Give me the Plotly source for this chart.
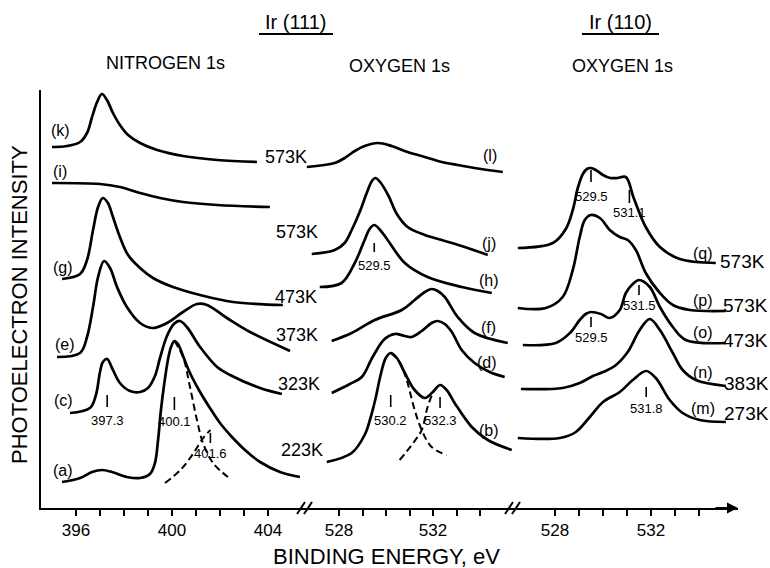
import plotly.graph_objects as go

# ---------------- Ir(111), nitrogen 1s (binding energy in eV, offset intensity) ----------------
k_be = [395.0, 395.62, 396.17, 396.46, 396.67, 396.88, 397.08, 397.29, 397.54, 397.83, 398.17, 398.67, 399.38, 400.46, 401.88, 403.54]
k_int = [36.1, 36.2, 36.6, 37.5, 39.1, 40.6, 41.4, 40.8, 39.5, 38.3, 37.3, 36.5, 35.8, 35.2, 34.8, 34.6]

i_be = [395.0, 397.0, 397.83, 398.67, 399.5, 400.46, 401.88, 404.08]
i_int = [32.5, 32.4, 32.1, 31.5, 31.0, 30.6, 30.3, 30.1]

g_be = [395.42, 396.17, 396.46, 396.71, 396.92, 397.12, 397.33, 397.54, 397.83, 398.17, 398.67, 399.21, 400.04, 401.17, 402.54, 404.62]
g_int = [22.9, 23.4, 24.8, 27.8, 30.1, 31.0, 30.5, 29.1, 27.1, 25.3, 24.0, 23.0, 22.1, 21.3, 20.6, 20.3]

e_be = [395.21, 396.17, 396.46, 396.71, 396.92, 397.17, 397.42, 397.71, 398.12, 398.67, 399.17, 399.79, 400.46, 401.04, 401.46, 402.29, 403.25, 404.92]
e_int = [15.1, 15.5, 17.1, 20.1, 23.1, 24.7, 24.0, 22.1, 20.1, 18.5, 18.0, 18.5, 19.6, 20.4, 20.3, 19.0, 17.6, 15.7]

c_be = [395.75, 396.58, 396.83, 397.0, 397.12, 397.3, 397.5, 397.83, 398.25, 398.67, 399.0, 399.29, 399.5, 399.79, 400.08, 400.33, 400.62, 401.17, 401.88, 402.42, 403.67, 404.58]
c_int = [9.5, 10.0, 11.3, 13.6, 14.6, 14.9, 14.0, 12.5, 11.7, 11.6, 12.0, 13.2, 15.0, 17.2, 18.4, 18.7, 18.1, 16.1, 14.1, 13.3, 12.0, 11.4]

a_be = [395.42, 396.17, 396.67, 397.08, 397.5, 398.12, 398.67, 399.08, 399.29, 399.42, 399.54, 399.67, 399.83, 399.96, 400.1, 400.25, 400.46, 400.75, 401.17, 401.58, 402.0, 402.5, 403.04, 403.67, 404.5, 405.33]
a_int = [2.6, 3.0, 3.6, 3.8, 3.6, 3.1, 3.0, 3.4, 4.5, 6.8, 9.8, 12.3, 14.8, 16.1, 16.7, 16.4, 15.2, 13.5, 11.6, 10.0, 8.5, 7.1, 5.8, 4.6, 3.6, 3.1]

# fitted components of spectrum (a)
a_fit1_be = [400.1, 400.46, 400.75, 401.04, 401.29, 401.71, 402.33]
a_fit1_int = [16.7, 15.1, 12.1, 8.8, 6.5, 4.5, 3.1]
a_fit2_be = [399.71, 400.35, 400.9, 401.3, 401.6]
a_fit2_int = [2.5, 3.8, 5.5, 7.0, 7.8]

# ---------------- Ir(111), oxygen 1s ----------------
l_be = [526.63, 527.82, 528.24, 528.67, 529.09, 529.65, 530.24, 530.92, 531.65, 532.37, 533.05, 533.77, 534.97]
l_int = [34.1, 34.5, 35.0, 35.7, 36.2, 36.5, 36.2, 35.6, 35.1, 34.6, 34.3, 34.0, 33.6]

j_be = [526.84, 527.82, 528.24, 528.54, 528.88, 529.18, 529.4, 529.55, 529.75, 530.11, 530.46, 530.92, 531.65, 532.37, 533.35, 534.33]
j_int = [25.4, 25.8, 26.5, 27.8, 29.6, 31.5, 32.7, 33.0, 32.6, 31.2, 29.4, 28.1, 27.3, 26.8, 26.1, 25.3]

h_be = [527.18, 528.11, 528.67, 529.09, 529.3, 529.5, 529.75, 530.07, 530.8, 531.77, 533.22, 534.5]
h_int = [22.1, 22.5, 24.5, 26.8, 27.9, 28.3, 27.8, 26.8, 24.5, 23.1, 22.1, 21.5]

f_be = [527.69, 528.54, 529.52, 530.67, 531.22, 531.65, 531.94, 532.2, 532.5, 533.05, 533.77, 535.18]
f_int = [16.7, 17.5, 18.8, 19.8, 20.8, 21.6, 21.9, 21.7, 21.1, 19.1, 17.5, 16.5]

d_be = [527.69, 528.46, 528.97, 529.43, 529.94, 530.37, 530.8, 531.09, 531.52, 531.94, 532.2, 532.5, 532.8, 533.22, 533.77, 534.41, 535.05]
d_int = [11.5, 12.4, 13.1, 15.1, 16.9, 17.4, 17.2, 17.1, 17.7, 18.5, 18.7, 18.4, 17.6, 15.8, 14.5, 13.6, 13.1]

b_be = [527.48, 528.54, 529.09, 529.34, 529.56, 529.77, 529.99, 530.2, 530.46, 530.8, 531.22, 531.65, 531.99, 532.3, 532.58, 532.92, 533.65, 534.33, 535.35]
b_int = [4.6, 5.5, 7.3, 9.0, 11.0, 13.3, 15.0, 15.5, 15.0, 13.5, 11.8, 11.0, 11.6, 12.3, 11.8, 10.5, 8.1, 6.8, 5.8]

# fitted components of spectrum (b)
b_fit1_be = [530.2, 530.58, 530.88, 531.22, 531.52, 531.94, 532.58]
b_fit1_int = [15.5, 14.6, 12.8, 9.8, 7.8, 6.1, 5.3]
b_fit2_be = [530.58, 531.09, 531.52, 531.77, 532.07, 532.3]
b_fit2_int = [4.8, 6.3, 7.8, 10.1, 11.8, 12.3]

# ---------------- Ir(110), oxygen 1s ----------------
q_be = [526.45, 527.91, 528.45, 528.74, 528.95, 529.16, 529.33, 529.5, 529.7, 530.0, 530.3, 530.6, 530.95, 531.28, 531.78, 532.37, 533.2, 534.7]
q_int = [26.0, 26.5, 27.9, 29.8, 32.0, 33.4, 33.9, 34.0, 33.8, 33.3, 33.0, 33.0, 33.1, 31.0, 28.1, 26.1, 24.9, 24.5]

p_be = [526.45, 527.62, 528.32, 528.74, 529.03, 529.24, 529.49, 529.87, 530.28, 530.7, 531.03, 531.37, 531.78, 532.37, 532.91, 533.62, 535.12]
p_int = [20.0, 20.0, 21.1, 23.8, 27.1, 28.8, 29.3, 29.0, 27.8, 27.1, 26.8, 25.8, 23.5, 21.5, 20.3, 19.8, 19.7]

o_be = [526.66, 528.03, 528.62, 529.03, 529.28, 529.5, 529.91, 530.28, 530.7, 530.95, 531.24, 531.5, 531.95, 532.37, 532.91, 533.45, 535.12]
o_int = [16.3, 16.5, 17.5, 18.8, 19.4, 19.6, 19.4, 19.0, 19.8, 21.5, 22.4, 22.8, 22.1, 20.1, 18.1, 16.8, 16.5]

n_be = [526.58, 528.32, 529.03, 529.58, 530.0, 530.49, 531.03, 531.53, 531.95, 532.37, 532.91, 533.32, 533.87, 535.12]
n_int = [11.9, 12.0, 12.5, 13.2, 13.6, 14.2, 15.6, 17.8, 18.9, 17.8, 15.5, 13.8, 12.8, 12.2]

m_be = [526.45, 528.2, 528.87, 529.45, 530.0, 530.7, 531.24, 531.8, 532.2, 532.78, 533.32, 534.03, 535.12]
m_int = [7.0, 7.0, 7.6, 9.1, 10.6, 11.6, 12.8, 13.7, 13.0, 10.8, 9.5, 8.8, 8.6]

# peak positions marked on the spectra (eV)
n111_peaks = [397.3, 400.1, 401.6]
o111_peaks = [529.5, 530.2, 532.3]
o110_peaks = [529.5, 531.1, 529.5, 531.5, 531.8]

# axis tick values and labels
n_ticks = list(range(396, 405))
o_ticks = list(range(528, 535))

# ------------------------------------------------------------------
W, H = 770, 568
ML, MR, MT, MB = 41, 32, 90, 60
PW, PH = W - ML - MR, H - MT - MB
FONT = "Liberation Sans, Arial, sans-serif"


def fx(px):
    """pixel column -> paper x"""
    return (px - ML) / PW


def fy(py):
    """pixel row -> paper y"""
    return (H - MB - py) / PH


fig = go.Figure()

LINE = dict(color="black", width=2.7)
DASH = dict(color="black", width=2.0, dash="7px,4px")


def curve(be, inten, ax, line=LINE):
    fig.add_trace(go.Scatter(x=be, y=inten, xaxis=ax, yaxis="y", mode="lines",
                             line=dict(shape="spline", smoothing=1.0, **line),
                             hoverinfo="skip", showlegend=False))


for be, it in [(k_be, k_int), (i_be, i_int), (g_be, g_int), (e_be, e_int), (c_be, c_int), (a_be, a_int)]:
    curve(be, it, "x")
curve(a_fit1_be, a_fit1_int, "x", DASH)
curve(a_fit2_be, a_fit2_int, "x", DASH)

for be, it in [(l_be, l_int), (j_be, j_int), (h_be, h_int), (f_be, f_int), (d_be, d_int), (b_be, b_int)]:
    curve(be, it, "x2")
curve(b_fit1_be, b_fit1_int, "x2", DASH)
curve(b_fit2_be, b_fit2_int, "x2", DASH)

for be, it in [(q_be, q_int), (p_be, p_int), (o_be, o_int), (n_be, n_int), (m_be, m_int)]:
    curve(be, it, "x3")

# ---------------- axes ----------------
xcommon = dict(showline=True, linecolor="black", linewidth=2, ticks="outside", ticklen=6,
               tickwidth=1.5, tickcolor="black", showgrid=False, zeroline=False,
               tickfont=dict(family=FONT, size=17, color="black"), anchor="y", fixedrange=True)

d1 = fx(305)
d2 = fx(513)
fig.update_layout(
    xaxis=dict(domain=[0, d1], range=[394.542, 405.542], tickvals=n_ticks,
               ticktext=[str(v) if (v - 396) % 4 == 0 else "" for v in n_ticks], **xcommon),
    xaxis2=dict(domain=[d1, d2], range=[526.553, 535.404], tickvals=o_ticks,
                ticktext=[str(v) if (v - 528) % 4 == 0 else "" for v in o_ticks], **xcommon),
    xaxis3=dict(domain=[d2, 1], range=[526.25, 535.625], tickvals=o_ticks,
                ticktext=[str(v) if (v - 528) % 4 == 0 else "" for v in o_ticks], **xcommon),
    yaxis=dict(range=[0, PH / 10], showline=True, linecolor="black", linewidth=2,
               showticklabels=False, ticks="", showgrid=False, zeroline=False,
               anchor="x", fixedrange=True),
    width=W, height=H, margin=dict(l=ML, r=MR, t=MT, b=MB),
    paper_bgcolor="white", plot_bgcolor="white",
    font=dict(family=FONT, color="black"),
)

shapes = []
ann = []

# axis breaks "//"
for cx in (301, 308, 509, 516):
    shapes.append(dict(type="line", xref="paper", yref="paper",
                       x0=fx(cx - 4), y0=fy(514), x1=fx(cx + 4), y1=fy(502),
                       line=dict(color="black", width=2)))

# arrow at the end of the energy axis
ann.append(dict(xref="paper", yref="paper", x=1.0, y=0, ax=-24, ay=0, text="",
                showarrow=True, arrowhead=2, arrowsize=1.1, arrowwidth=2,
                arrowcolor="black", standoff=0))

# peak markers: (axis, value, tick top, tick bottom, label y)
marks = [
    ("x", n111_peaks[0], 11.3, 10.1, 8.8),
    ("x", n111_peaks[1], 11.1, 9.8, 8.7),
    ("x", n111_peaks[2], 7.5, 6.5, 5.5),
    ("x2", o111_peaks[0], 26.5, 25.6, 24.3),
    ("x2", o111_peaks[1], 11.3, 10.1, 8.8),
    ("x2", o111_peaks[2], 11.1, 10.0, 8.8),
    ("x3", o110_peaks[0], 33.8, 32.6, 31.2),
    ("x3", o110_peaks[1], 31.8, 30.5, 29.6),
    ("x3", o110_peaks[2], 19.1, 18.1, 17.1),
    ("x3", o110_peaks[3], 22.3, 21.3, 20.3),
    ("x3", o110_peaks[4], 12.1, 11.1, 10.0),
]
for ax, val, y0, y1, ylab in marks:
    shapes.append(dict(type="line", xref=ax, yref="y", x0=val, x1=val, y0=y0, y1=y1,
                       line=dict(color="black", width=1.6)))
    ann.append(dict(xref=ax, yref="y", x=val, y=ylab, text=f"{val:.1f}", showarrow=False,
                    font=dict(size=13, family=FONT), xanchor="center", yanchor="middle"))


def label(text, px, py, size, **kw):
    ann.append(dict(xref="paper", yref="paper", x=fx(px), y=fy(py), text=text,
                    showarrow=False, font=dict(size=size, family=FONT, color="black"),
                    xanchor="center", yanchor="middle", **kw))


# spectrum letters
for t, px, py in [("(k)", 60, 130), ("(i)", 60, 171), ("(g)", 63, 267), ("(e)", 65, 344),
                  ("(c)", 63, 400), ("(a)", 63, 470),
                  ("(l)", 490, 155), ("(j)", 489, 243), ("(h)", 489, 280), ("(f)", 489, 327),
                  ("(d)", 487, 362), ("(b)", 489, 430),
                  ("(q)", 703, 253), ("(p)", 703, 300), ("(o)", 703, 332), ("(n)", 703, 373),
                  ("(m)", 703, 408)]:
    label(t, px, py, 16)

# adsorption temperatures
for t, px, py in [("573K", 286, 157), ("573K", 297, 232), ("473K", 296, 297), ("373K", 297, 335),
                  ("323K", 299, 384), ("223K", 302, 450)]:
    label(t, px, py, 18)
for t, px, py in [("573K", 743, 261), ("573K", 745, 305), ("473K", 745, 340), ("383K", 746, 383),
                  ("273K", 746, 413)]:
    label(t, px, py, 19)

# headings
label("Ir (111)", 296, 22, 20)
label("Ir (110)", 620, 22, 20)
for x0, x1 in ((259, 333), (582, 659)):
    shapes.append(dict(type="line", xref="paper", yref="paper", x0=fx(x0), x1=fx(x1),
                       y0=fy(34), y1=fy(34), line=dict(color="black", width=2)))
label("NITROGEN 1s", 165, 63, 18)
label("OXYGEN 1s", 399, 66, 18)
label("OXYGEN 1s", 622, 66, 18)

# axis titles
label("BINDING ENERGY, eV", 386, 556, 22)
label("PHOTOELECTRON INTENSITY", 19, 305, 22, textangle=-90)

fig.update_layout(shapes=shapes, annotations=ann)
fig.write_html("out.html")
